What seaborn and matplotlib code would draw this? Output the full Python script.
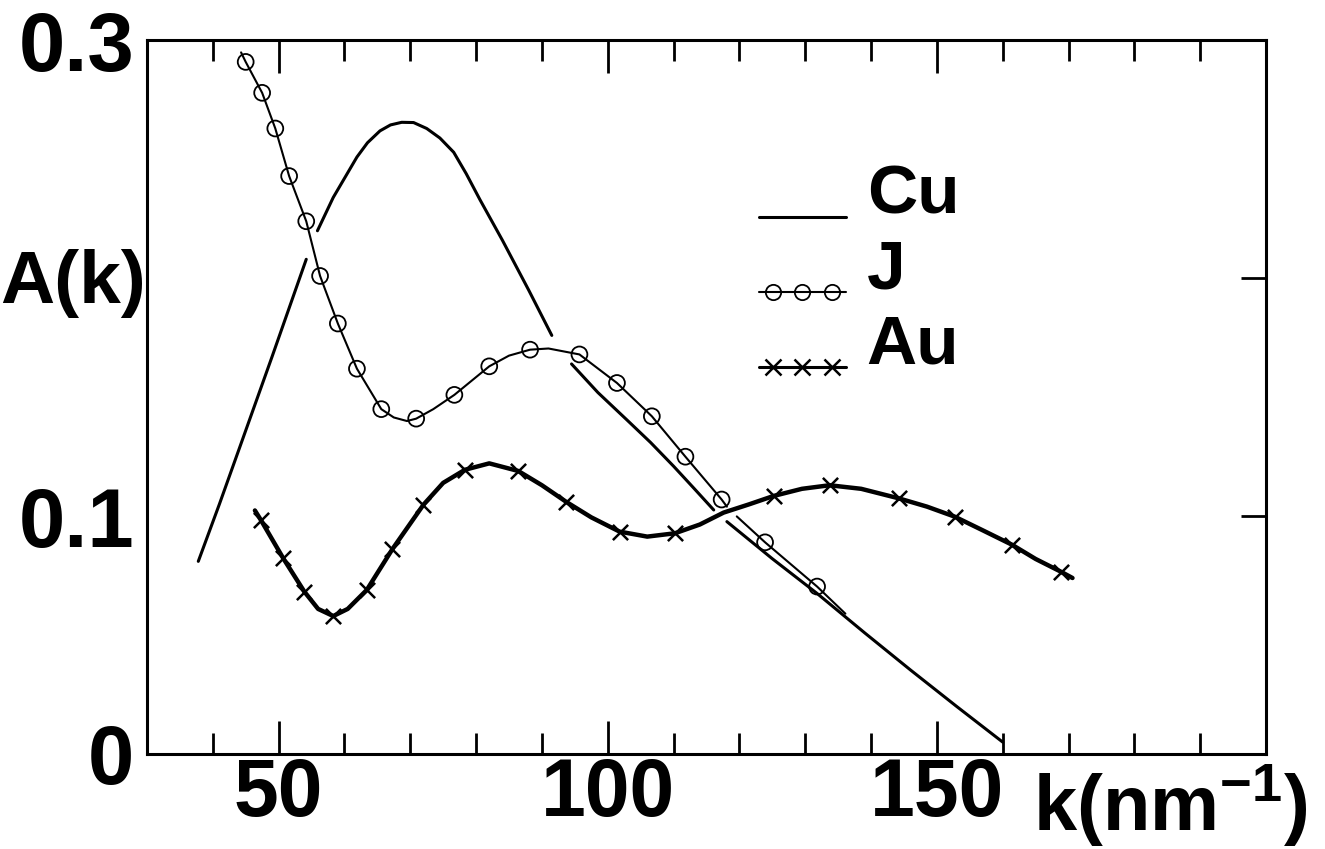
import numpy as np
import pandas as pd
import matplotlib.pyplot as plt
import seaborn as sns
from matplotlib.lines import Line2D
from matplotlib.legend_handler import HandlerLine2D

nan = np.nan

# Cu curve (plain line); NaN = place where the drawn line is broken at a crossing
cu_k = [37.8, 41.0, 44.1, 49.0, 54.2, nan,
        55.9, 58.3, 61.9, 63.5, 65.4, 67.0, 68.7, 70.5, 72.5, 74.5, 76.6, 78.5, 80.6, 84.0, 88.0, 91.5, nan,
        94.5, 98.5, 102.9, 106.5, 110.0, 113.0, 116.1, nan,
        118.1, 125.0, 131.8, 139.0, 146.0, 153.0, 160.0]
cu_a = [0.081, 0.105, 0.129, 0.167, 0.208, nan,
        0.220, 0.234, 0.251, 0.257, 0.262, 0.2645, 0.2656, 0.2655, 0.263, 0.259, 0.253, 0.244, 0.233, 0.216, 0.195, 0.176, nan,
        0.164, 0.152, 0.1405, 0.131, 0.121, 0.112, 0.1026, nan,
        0.0977, 0.0821, 0.0675, 0.051, 0.0353, 0.020, 0.005]

# J curve (line with rings)
j_k = [44.3, 45.0, 47.5, 49.5, 51.6, 54.2, 56.3, 59.0, 61.9, 65.6, 67.5, 69.5, 70.9, 73.5, 76.7,
       82.0, 85.0, 88.2, 91.0, 95.7, 101.4, 106.7, 111.8, 117.3, 118.1, nan,
       119.6, 123.9, 131.8, 136.1]
j_a = [0.295, 0.291, 0.278, 0.263, 0.243, 0.224, 0.201, 0.181, 0.162, 0.145, 0.1415, 0.140, 0.141, 0.145, 0.151,
       0.163, 0.1675, 0.170, 0.1705, 0.168, 0.156, 0.142, 0.125, 0.107, 0.104, nan,
       0.0999, 0.089, 0.0704, 0.059]
j_ring_k = [45.0, 47.5, 49.5, 51.6, 54.2, 56.3, 59.0, 61.9, 65.6, 70.9, 76.7, 82.0, 88.2, 95.7,
            101.4, 106.7, 111.8, 117.3, 123.9, 131.8]
j_ring_a = [0.291, 0.278, 0.263, 0.243, 0.224, 0.201, 0.181, 0.162, 0.145, 0.141, 0.151, 0.163, 0.170, 0.168,
            0.156, 0.142, 0.125, 0.107, 0.089, 0.0704]

# Au curve (thick line with crosses)
au_k = [46.4, 47.3, 50.7, 53.9, 56.0, 58.3, 60.5, 63.4, 67.3, 72.0, 75.0, 78.3, 82.0, 86.4, 90.0, 93.7,
        97.5, 101.8, 106.0, 110.2, 114.0, 117.6, 121.5, 125.2, 129.5, 133.7, 138.5, 144.2, 148.5,
        152.7, 157.0, 161.4, 165.0, 168.8, 170.6]
au_a = [0.1024, 0.0984, 0.0823, 0.0683, 0.061, 0.058, 0.061, 0.069, 0.0862, 0.1048, 0.114, 0.1195, 0.1222, 0.119, 0.113, 0.106,
        0.0995, 0.0935, 0.0914, 0.0928, 0.0965, 0.1015, 0.105, 0.1085, 0.1115, 0.113, 0.1115, 0.1075, 0.104,
        0.0998, 0.094, 0.088, 0.082, 0.0767, 0.074]
au_star_k = [47.3, 50.7, 53.9, 58.3, 63.4, 67.3, 72.0, 78.3, 86.4, 93.7, 101.8, 110.2, 125.2, 133.7,
             144.2, 152.7, 161.4, 168.8]
au_star_a = [0.0984, 0.0823, 0.0683, 0.058, 0.069, 0.0862, 0.1048, 0.1195, 0.119, 0.106, 0.0935, 0.0928,
             0.1085, 0.113, 0.1075, 0.0998, 0.088, 0.0767]

major_ticks = [50, 100, 150]
minor_ticks = [40, 60, 70, 80, 90, 110, 120, 130, 140, 160, 170, 180, 190]


def pieces(k, a):
    # split a curve into separately drawn pieces at the NaN breaks
    df = pd.DataFrame({'k': k, 'A': a})
    df['seg'] = df['A'].isna().cumsum()
    return df.dropna()


class BaselineLine(HandlerLine2D):
    # legend sample drawn full length, sitting on the text baseline
    def create_artists(self, legend, orig_handle, xdescent, ydescent, width, height, fontsize, trans):
        arts = super().create_artists(legend, orig_handle, xdescent, ydescent,
                                      width, height, fontsize, trans)
        line = arts[0]
        xm = np.asarray(line.get_xdata(), dtype=float)
        y = float(np.asarray(line.get_ydata())[0]) - 0.4 * fontsize
        xs = np.concatenate([[-xdescent], xm, [-xdescent + width]])
        line.set_data(xs, np.full(len(xs), y))
        line.set_markevery(list(range(1, len(xm) + 1)))
        return arts


sns.set_style('white')
plt.rcParams['font.family'] = ['Liberation Sans', 'DejaVu Sans']
plt.rcParams['font.weight'] = 'bold'
plt.rcParams['mathtext.fontset'] = 'custom'
plt.rcParams['mathtext.rm'] = 'Liberation Sans:bold'
plt.rcParams['mathtext.bf'] = 'Liberation Sans:bold'
plt.rcParams['mathtext.default'] = 'bf'
for key in ['text.color', 'axes.labelcolor', 'xtick.color', 'ytick.color', 'axes.edgecolor']:
    plt.rcParams[key] = 'black'

fig = plt.figure(figsize=(13.25, 8.49), dpi=100)
ax = fig.add_axes([0.1109, 0.1119, 0.8446, 0.8404])

sns.lineplot(data=pieces(cu_k, cu_a), x='k', y='A', units='seg', estimator=None, sort=False,
             color='black', lw=2.2, ax=ax)
sns.lineplot(data=pieces(j_k, j_a), x='k', y='A', units='seg', estimator=None, sort=False,
             color='black', lw=1.5, ax=ax)
sns.lineplot(data=pieces(au_k, au_a), x='k', y='A', units='seg', estimator=None, sort=False,
             color='black', lw=3.2, ax=ax)
sns.scatterplot(x=j_ring_k, y=j_ring_a, marker='o', s=130, color='black', facecolor='none',
                edgecolor='black', linewidth=1.3, ax=ax, zorder=3)
sns.scatterplot(x=au_star_k, y=au_star_a, marker='x', s=120, color='black', linewidth=1.8,
                ax=ax, zorder=3)

ax.set_xlim(30, 200)
ax.set_ylim(0, 0.3)

ax.set_xticks(major_ticks)
ax.set_xticklabels([str(t) for t in major_ticks])
ax.set_xticks(minor_ticks, minor=True)
ax.tick_params(axis='x', which='both', direction='in', top=True, bottom=True, width=2,
               labelsize=58, pad=2)
ax.tick_params(axis='x', which='major', length=24)
ax.tick_params(axis='x', which='minor', length=15)

ax.set_yticks([0, 0.1, 0.2, 0.3])
ax.set_yticklabels(['0', '0.1', '', '0.3'])
ax.tick_params(axis='y', direction='in', left=False, right=True, labelleft=True,
               length=18, width=2, labelsize=60, pad=9)

for sp in ax.spines.values():
    sp.set_linewidth(2.2)

ax.set_ylabel('A(k)', rotation=0, fontsize=54, fontweight='bold', ha='center', va='center')
ax.yaxis.set_label_coords(-0.066, 0.66)
ax.set_xlabel('k(nm$^{-1}$)', fontsize=56, fontweight='bold', ha='center', va='center')
ax.xaxis.set_label_coords(0.914, -0.072)

handles = [
    Line2D([], [], color='black', lw=2.2),
    Line2D([], [], color='black', lw=1.5, marker='o', ms=11, mfc='none', mew=1.3),
    Line2D([], [], color='black', lw=2.2, marker='x', ms=11, mew=1.8),
]
ax.legend(handles, ['Cu', 'J', 'Au'], loc='upper left', bbox_to_anchor=(0.547, 0.828),
          frameon=False, numpoints=3, handlelength=1.25, handletextpad=0.3,
          labelspacing=0.16, borderpad=0, borderaxespad=0,
          prop={'size': 50, 'weight': 'bold'},
          handler_map={Line2D: BaselineLine(marker_pad=0.2)})

fig.savefig('out.png', dpi=100)
